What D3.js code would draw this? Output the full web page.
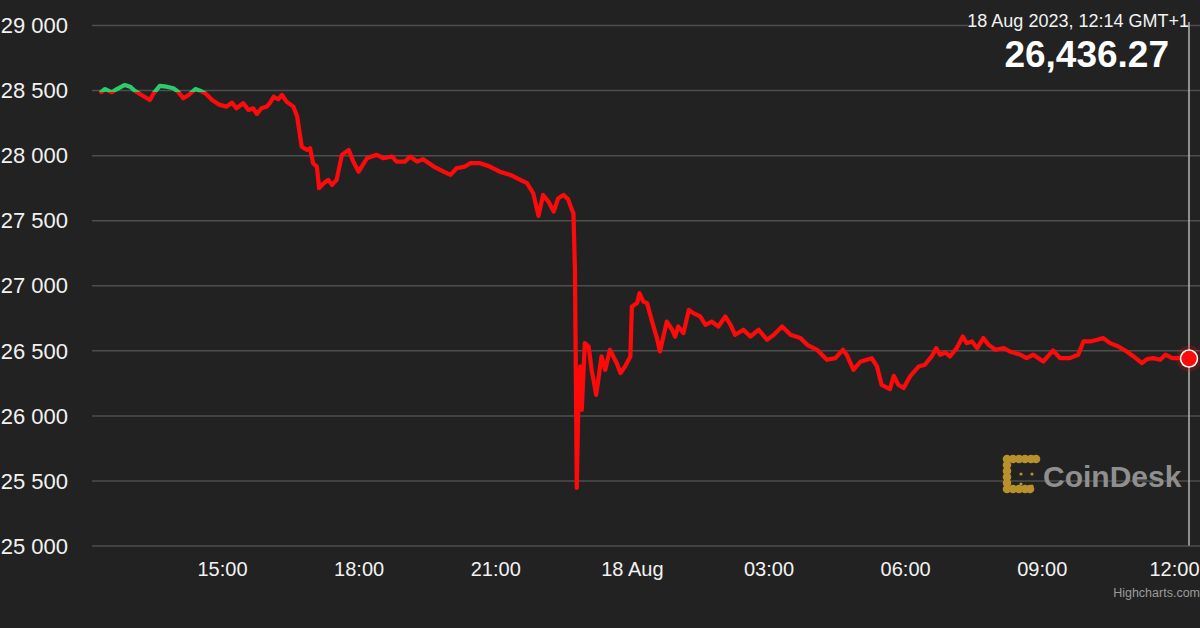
<!DOCTYPE html>
<html>
<head>
<meta charset="utf-8">
<script src="https://cdn.jsdelivr.net/npm/d3@7"></script>
<style>
  html, body { margin: 0; padding: 0; background: #222222; }
  svg { display: block; }
  text { font-family: Helvetica, Arial, "Liberation Sans", sans-serif; }
</style>
</head>
<body>
<svg id="chart" width="1200" height="628"></svg>
<script>
// ---- Data ----
// minutes after 17 Aug 2023 12:14 (GMT+1)
const minutes = [7,12,21,27,38,45,51,60,71,76,84,93,102,108,115,122,131,137,144,153,163,172,179,185,194,201,207,212,218,225,229,234,240,245,251,260,265,269,271,278,282,286,291,294,300,306,311,317,324,333,339,346,357,363,370,379,390,396,407,414,423,431,445,458,467,475,486,493,506,519,532,546,559,568,576,583,589,596,603,609,616,622,627,629,631,632.5,633.4,635.5,638,640,644,649,653,659,666,671,677,686,691,697,704,706,713,716,721,726,732,739,743,752,759,763,767,774,781,787,796,803,811,820,829,836,842,853,862,873,884,893,904,915,928,937,950,963,974,984,989,998,1007,1022,1029,1035,1046,1051,1057,1064,1073,1084,1092,1101,1107,1112,1119,1125,1134,1142,1147,1154,1161,1169,1176,1185,1196,1204,1218,1226,1235,1248,1261,1270,1283,1294,1301,1310,1319,1327,1336,1347,1358,1367,1378,1385,1393,1402,1409,1418,1429,1440];
const prices = [28485,28508,28483,28506,28539,28526,28495,28462,28424,28475,28532,28526,28514,28488,28437,28462,28508,28495,28475,28424,28386,28373,28403,28360,28399,28347,28360,28316,28360,28373,28399,28449,28429,28462,28411,28373,28296,28142,28065,28040,28053,27938,27912,27746,27784,27810,27771,27810,28002,28040,27950,27873,27976,27989,28002,27976,27989,27950,27950,27989,27950,27969,27912,27873,27848,27899,27912,27938,27938,27912,27873,27848,27810,27784,27707,27533,27694,27643,27566,27669,27694,27661,27579,27554,27118,26097,25442,26097,26376,26043,26555,26529,26350,26158,26453,26350,26504,26402,26325,26376,26453,26837,26863,26939,26875,26863,26734,26594,26491,26721,26658,26606,26683,26632,26811,26786,26760,26696,26721,26683,26760,26696,26619,26658,26606,26658,26581,26619,26683,26619,26594,26542,26504,26427,26440,26504,26466,26350,26412,26439,26376,26235,26202,26304,26235,26210,26304,26376,26389,26453,26517,26466,26483,26453,26517,26606,26555,26568,26517,26594,26542,26504,26517,26491,26466,26440,26466,26414,26499,26440,26440,26466,26568,26568,26581,26594,26555,26529,26491,26453,26402,26433,26440,26427,26466,26440,26440,26436.27];
const yTicks = [25000,25500,26000,26500,27000,27500,28000,28500,29000];
const startTime = "2023-08-17T12:14:00Z";   // wall-clock GMT+1, treated as UTC
const endTime   = "2023-08-18T12:14:00Z";
const headerDate = "18 Aug 2023, 12:14 GMT+1";
const headerPrice = "26,436.27";
const brand = "CoinDesk";
const credit = "Highcharts.com";

// ---- Setup ----
const svg = d3.select("#chart");
svg.append("rect").attr("width",1200).attr("height",628).attr("fill","#222222");

const t0 = new Date(startTime), t1 = new Date(endTime);
const data = minutes.map((m,i)=>({t:new Date(t0.getTime()+m*60000), v:prices[i]}));

const x = d3.scaleUtc().domain([t0,t1]).range([96,1189]);
const y = d3.scaleLinear().domain([25000,29000]).range([545.5,25]);

// Gridlines + y labels
const yAxis = d3.axisLeft(y).tickValues(yTicks)
  .tickSize(-1108)
  .tickPadding(24)
  .tickFormat(d => d3.format(",")(d).replace(",", " "));
const gy = svg.append("g").attr("transform","translate(92,0)").call(yAxis);
gy.select(".domain").remove();
gy.selectAll(".tick line").attr("stroke","#4e4e4e").attr("stroke-width",1.5);
gy.selectAll(".tick text").attr("fill","#f2f2f2").attr("font-size",22)
  .attr("x",-24).attr("dy","0.35em");

// X axis labels
const xAxis = d3.axisBottom(x).ticks(d3.utcHour.every(3))
  .tickSize(0).tickPadding(16)
  .tickFormat(d => d.getUTCHours()===0 ? d3.utcFormat("%-d %b")(d) : d3.utcFormat("%H:%M")(d));
const gx = svg.append("g").attr("transform","translate(0,545.5)").call(xAxis);
gx.select(".domain").remove();
gx.selectAll(".tick text").attr("fill","#f2f2f2").attr("font-size",20).attr("dy","0.71em");
gx.selectAll(".tick").filter(d => x(d) < 120).remove();
// keep the last label inside the frame
gx.selectAll(".tick").filter(d => x(d) > 1160).select("text")
  .attr("text-anchor","end").attr("x", d => 1199 - x(d));

// Watermark logo
const logo = svg.append("g").attr("class","logo");
const gold = "#b8912c";
const iconPts = [];
[1007,1013,1019,1025,1031,1036].forEach(px=>iconPts.push([px,459,4.3]));
[465,471,477,483].forEach(py=>iconPts.push([1007,py,4.3]));
[1007,1013,1019,1025,1030].forEach(px=>iconPts.push([px,489,4.3]));
[[1021,474],[1032,474],[1021,484],[1032,486]].forEach(p=>iconPts.push([p[0],p[1],1.6]));
logo.selectAll("circle").data(iconPts).join("circle")
  .attr("cx",d=>d[0]).attr("cy",d=>d[1]).attr("r",d=>d[2]).attr("fill",gold);
logo.append("text").attr("x",1043).attr("y",487).attr("font-size",30)
  .attr("font-weight","bold").attr("fill","#8f8f8f").text(brand);

// Colour zones: green above opening price, red below
const thresholdY = y(prices[0]);
const defs = svg.append("defs");
const grad = defs.append("linearGradient").attr("id","zone")
  .attr("gradientUnits","userSpaceOnUse").attr("x1",0).attr("x2",0).attr("y1",0).attr("y2",628);
grad.append("stop").attr("offset",thresholdY/628).attr("stop-color","#2ccb6c");
grad.append("stop").attr("offset",thresholdY/628).attr("stop-color","#ff0a0a");

// Crosshair
svg.append("line").attr("x1",x(t1)).attr("x2",x(t1)).attr("y1",22).attr("y2",545.5)
  .attr("stroke","#b5b5b5").attr("stroke-width",1.5);

// Line
const line = d3.line().x(d=>x(d.t)).y(d=>y(d.v));
svg.append("path").datum(data).attr("d",line)
  .attr("fill","none").attr("stroke","url(#zone)").attr("stroke-width",4.2)
  .attr("stroke-linejoin","round").attr("stroke-linecap","round");

// Last point marker
const last = data[data.length-1];
svg.append("circle").attr("cx",x(last.t)).attr("cy",y(last.v)).attr("r",13)
  .attr("fill","#ff0a0a").attr("opacity",0.22);
svg.append("circle").attr("cx",x(last.t)).attr("cy",y(last.v)).attr("r",8.5)
  .attr("fill","#ff0a0a").attr("stroke","#ffffff").attr("stroke-width",1.5);

// Header
const hdr = svg.append("g");
hdr.append("rect").attr("x",968).attr("y",4).attr("width",216).attr("height",70).attr("fill","#222222");
hdr.append("text").attr("x",1189).attr("y",27).attr("text-anchor","end")
  .attr("font-size",18).attr("fill","#f2f2f2").text(headerDate);
hdr.append("text").attr("x",1169).attr("y",67).attr("text-anchor","end")
  .attr("font-size",37).attr("font-weight","bold").attr("fill","#ffffff").text(headerPrice);

// Credit
svg.append("text").attr("x",1200).attr("y",597).attr("text-anchor","end")
  .attr("font-size",12.5).attr("fill","#9a9a9a").text(credit);
</script>
</body>
</html>
